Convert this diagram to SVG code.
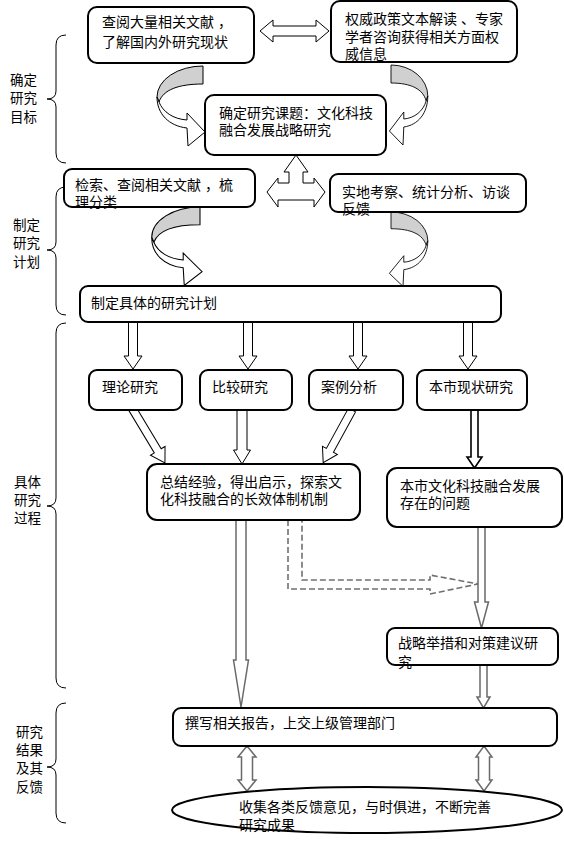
<svg xmlns="http://www.w3.org/2000/svg" xmlns:xlink="http://www.w3.org/1999/xlink" width="564" height="844" viewBox="0 0 564 844">
<style>
.box{fill:#fff;stroke:#000;stroke-width:2}
.t{font-family:"Liberation Sans","Noto Sans CJK SC",sans-serif;font-size:14px;fill:#000}
.lbl{font-family:"Liberation Sans","Noto Sans CJK SC",sans-serif;font-size:13.5px;fill:#000}
.arr{fill:#fff;stroke:#000;stroke-width:1}
.garr{fill:#fff;stroke:#6a6a6a;stroke-width:1.5}
.dash{fill:none;stroke:#707070;stroke-width:1.6;stroke-dasharray:6 3}
.brace{fill:none;stroke:#000;stroke-width:1}
.gray{fill:#d0d0d0;stroke:#000;stroke-width:1}
</style>
<defs>
<g id="curve">
<path class="gray" d="M0,0 A46,31 0 0 0 -46,31 L-44,36 C-40,24 -25,18 0,18 Z"/>
<path class="arr" d="M-46,31 C-46,48 -34,60 -16,62 L-15,80 L2,66 L-16,47 L-16,54 C-30,53 -40,46 -44,36 Z"/>
</g>
</defs>
<rect width="564" height="844" fill="#fff"/>

<g id="labels">
<path class="brace" d="M66,35 Q56,35 56,45 L56,91 Q56,99 47,99 Q56,99 56,107 L56,153 Q56,163 66,163"/>
<text class="lbl" x="10" y="85">确定</text>
<text class="lbl" x="10" y="103">研究</text>
<text class="lbl" x="10" y="122">目标</text>
<path class="brace" d="M66,187 Q56,187 56,197 L56,242 Q56,250 47,250 Q56,250 56,258 L56,305 Q56,315 66,315"/>
<text class="lbl" x="13" y="230">制定</text>
<text class="lbl" x="13" y="248">研究</text>
<text class="lbl" x="13" y="267">计划</text>
<path class="brace" d="M66,323 Q56,323 56,333 L56,498 Q56,506 47,506 Q56,506 56,514 L56,678 Q56,688 66,688"/>
<text class="lbl" x="14" y="487">具体</text>
<text class="lbl" x="14" y="505">研究</text>
<text class="lbl" x="14" y="523">过程</text>
<path class="brace" d="M66,703 Q56,703 56,713 L56,759 Q56,767 47,767 Q56,767 56,775 L56,813 Q56,823 66,823"/>
<text class="lbl" x="16" y="737">研究</text>
<text class="lbl" x="16" y="755">结果</text>
<text class="lbl" x="16" y="773">及其</text>
<text class="lbl" x="16" y="792">反馈</text>
</g>

<g id="connectors">
<polygon class="arr" points="260,31 273,20 273,26 316,26 316,20 329,31 316,42 316,36 273,36 273,42"/>
<use xlink:href="#curve" transform="translate(203,66)"/>
<use xlink:href="#curve" transform="translate(391,65) scale(-0.8,1)"/>
<polygon class="arr" points="296,155 308,172 303,172 303,183 314,183 314,178 325,192 314,207 314,200 278,200 278,207 267,192 278,178 278,183 289,183 289,172 284,172"/>
<use xlink:href="#curve" transform="translate(200,207) scale(1.05,0.98)"/>
<use xlink:href="#curve" transform="translate(391,212) scale(-0.8,0.93)"/>
<polygon class="arr" points="128.5,322 137.5,322 137.5,356 142,356 133,369 124,356 128.5,356"/>
<polygon class="arr" points="243.5,322 252.5,322 252.5,356 257,356 248,369 239,356 243.5,356"/>
<polygon class="arr" points="353.5,322 362.5,322 362.5,356 367,356 358,369 349,356 353.5,356"/>
<polygon class="arr" points="463.5,322 472.5,322 472.5,356 477,356 468,369 459,356 463.5,356"/>
<polygon class="arr" transform="translate(132,408) rotate(-31)" points="-4,0 4,0 4,50 8.5,50 0,64 -8.5,50 -4,50"/>
<polygon class="arr" points="237,410 247,410 247,450 250.5,450 242,464 233.5,450 237,450"/>
<polygon class="arr" transform="translate(352,410) rotate(28.7)" points="-4,0 4,0 4,46 8.5,46 0,60 -8.5,46 -4,46"/>
<polygon class="arr" style="stroke-width:1.6" points="471,410 478,410 478,457 482,457 474.5,468 467,457 471,457"/>
<polygon class="garr" points="236,520 246,520 246,660 248.5,660 241,707 233.5,660 236,660"/>
<path class="dash" d="M288,520 L288,589 L430,589 L430,594 L478,584 L430,575 L430,580 L302,580 L302,520"/>
<polygon class="garr" points="478,527 485,527 485,602 488.5,602 481.5,628 474.5,602 478,602"/>
<polygon class="garr" points="480,665 487,665 487,697 490,697 483.5,708 477,697 480,697"/>
<polygon class="garr" points="247,746 256,757 252.5,757 252.5,780 256,780 247,791 238,780 241.5,780 241.5,757 238,757"/>
<polygon class="garr" points="484,746 492,757 489.5,757 489.5,780 492,780 484,791 476,780 478.5,780 478.5,757 476,757"/>
</g>

<g id="n-literature">
<rect class="box" x="88" y="7" width="166" height="56" rx="9"/>
<text class="t" x="102" y="27">查阅大量相关文献 ，</text>
<text class="t" x="102" y="47">了解国内外研究现状</text>
</g>
<g id="n-policy">
<rect class="box" x="331" y="1" width="186" height="61" rx="9"/>
<text class="t" x="345" y="24">权威政策文本解读 、专家</text>
<text class="t" x="345" y="42">学者咨询获得相关方面权</text>
<text class="t" x="345" y="59">威信息</text>
</g>
<g id="n-topic">
<rect class="box" x="205" y="95" width="181" height="60" rx="9"/>
<text class="t" x="219" y="118">确定研究课题：文化科技</text>
<text class="t" x="219" y="135">融合发展战略研究</text>
</g>
<g id="n-search">
<rect class="box" x="64" y="169" width="191" height="38" rx="8"/>
<text class="t" x="75" y="190">检索、查阅相关文献 ，梳</text>
<text class="t" x="75" y="207">理分类</text>
</g>
<g id="n-field">
<rect class="box" x="330" y="174" width="196" height="38" rx="8"/>
<text class="t" x="342" y="197">实地考察、统计分析、访谈</text>
<text class="t" x="342" y="214">反馈</text>
</g>
<g id="n-plan">
<rect class="box" x="80" y="286" width="421" height="36" rx="8"/>
<text class="t" x="91" y="308">制定具体的研究计划</text>
</g>
<g id="n-theory">
<rect class="box" x="89" y="370" width="93" height="40" rx="8"/>
<text class="t" x="102" y="392">理论研究</text>
</g>
<g id="n-compare">
<rect class="box" x="200" y="370" width="92" height="40" rx="8"/>
<text class="t" x="212" y="392">比较研究</text>
</g>
<g id="n-case">
<rect class="box" x="309" y="370" width="94" height="40" rx="8"/>
<text class="t" x="321" y="392">案例分析</text>
</g>
<g id="n-status">
<rect class="box" x="417" y="370" width="110" height="40" rx="8"/>
<text class="t" x="429" y="392">本市现状研究</text>
</g>
<g id="n-summary">
<rect class="box" x="147" y="464" width="213" height="56" rx="10"/>
<text class="t" x="160" y="487">总结经验，得出启示，探索文</text>
<text class="t" x="160" y="504">化科技融合的长效体制机制</text>
</g>
<g id="n-problem">
<rect class="box" x="387" y="468" width="175" height="59" rx="10"/>
<text class="t" x="400" y="491">本市文化科技融合发展</text>
<text class="t" x="400" y="508">存在的问题</text>
</g>
<g id="n-strategy">
<rect class="box" x="387" y="628" width="171" height="37" rx="8"/>
<text class="t" x="398" y="648">战略举措和对策建议研</text>
<text class="t" x="398" y="667">究</text>
</g>
<g id="n-report">
<rect class="box" x="173" y="708" width="384" height="38" rx="8"/>
<text class="t" x="185" y="728">撰写相关报告，上交上级管理部门</text>
</g>
<g id="n-feedback">
<ellipse class="box" cx="367" cy="810" rx="195" ry="23"/>
<text class="t" x="239" y="812">收集各类反馈意见，与时俱进，不断完善</text>
<text class="t" x="239" y="830">研究成果</text>
</g>
</svg>
